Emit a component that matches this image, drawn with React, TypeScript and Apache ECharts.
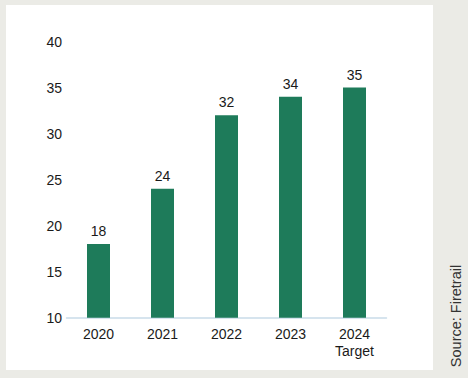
import React, { useEffect, useRef } from "react";
import * as echarts from "echarts";

const categories = ["2020", "2021", "2022", "2023", "2024\nTarget"];
const values = [18, 24, 32, 34, 35];
const yTicks = { min: 10, max: 40, interval: 5 };
const sourceText = "Source: Firetrail";

export default function App() {
  const ref = useRef<HTMLDivElement>(null);
  useEffect(() => {
    if (!ref.current) return;
    const chart = echarts.init(ref.current, undefined, { renderer: "svg" });
    const font = "'Liberation Sans', Arial, sans-serif";
    chart.setOption({
      animation: false,
      grid: { left: 66.5, right: 81.5, top: 41.5, bottom: 60.3, containLabel: false },
      xAxis: {
        type: "category",
        data: categories,
        axisLine: { show: true, lineStyle: { color: "#c9dce9", width: 1.5 } },
        axisTick: { show: false },
        axisLabel: {
          color: "#1a1a1a",
          fontSize: 14,
          fontFamily: font,
          margin: 8,
          lineHeight: 17,
          interval: 0,
        },
      },
      yAxis: {
        type: "value",
        min: yTicks.min,
        max: yTicks.max,
        interval: yTicks.interval,
        axisLine: { show: false },
        axisTick: { show: false },
        splitLine: { show: false },
        axisLabel: { color: "#1a1a1a", fontSize: 14, fontFamily: font, margin: 4.5 },
      },
      series: [
        {
          type: "bar",
          data: values,
          barWidth: 23,
          itemStyle: { color: "#1e7b5a" },
          label: {
            show: true,
            position: "top",
            distance: 6,
            color: "#1a1a1a",
            fontSize: 14,
            fontFamily: font,
          },
        },
      ],
      graphic: [
        {
          type: "text",
          x: 456,
          y: 316,
          rotation: Math.PI / 2,
          style: {
            text: sourceText,
            fill: "#333333",
            fontSize: 14.5,
            fontFamily: font,
            align: "center",
            verticalAlign: "middle",
          },
        },
      ],
    });
    return () => chart.dispose();
  }, []);
  return (
    <div
      style={{
        position: "fixed",
        left: 0,
        top: 0,
        width: 468,
        height: 378,
        background: "#ebebe6",
      }}
    >
      <div
        style={{
          position: "absolute",
          left: 6,
          top: 5,
          width: 427,
          height: 365,
          background: "#ffffff",
        }}
      />
      <div ref={ref} style={{ position: "absolute", left: 0, top: 0, width: 468, height: 378 }} />
    </div>
  );
}
